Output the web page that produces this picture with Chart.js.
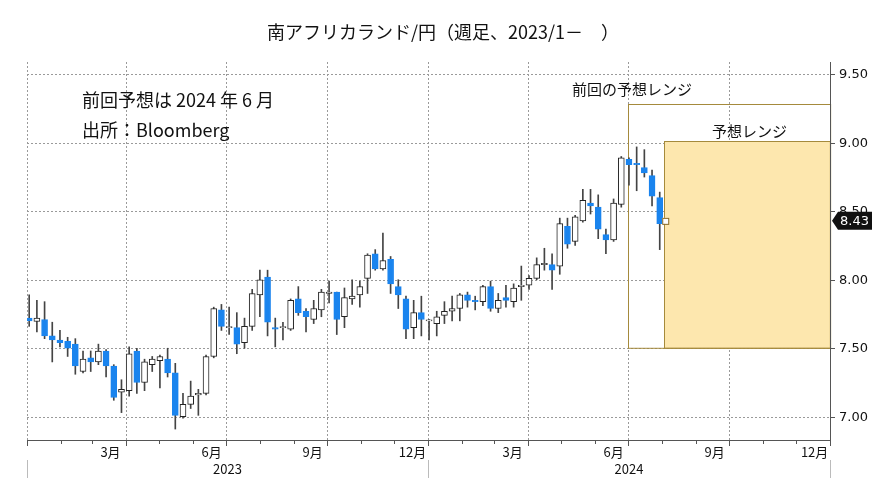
<!DOCTYPE html>
<html><head><meta charset="utf-8">
<script src="https://cdn.jsdelivr.net/npm/chart.js@4"></script>
<style>html,body{margin:0;padding:0;background:#fff}#w{width:885px;height:491px}</style>
</head><body><div id="w"><canvas id="c" width="885" height="491"></canvas></div>
<script>
// weekly candles, first week starting 2023-01-02 (day 1 from 2023-01-01)
const opens =  [7.72,7.695,7.71,7.59,7.56,7.55,7.53,7.33,7.43,7.40,7.48,7.37,7.18,7.19,7.48,7.25,7.38,7.41,7.42,7.32,7.00,7.09,7.16,7.17,7.44,7.78,7.65,7.65,7.54,7.66,7.89,8.02,7.65,7.65,7.64,7.86,7.77,7.71,7.78,7.90,7.91,7.73,7.86,7.89,8.01,8.19,8.08,8.15,7.95,7.86,7.65,7.76,7.70,7.68,7.74,7.77,7.79,7.89,7.85,7.84,7.95,7.79,7.87,7.84,7.95,7.96,8.01,8.11,8.11,8.10,8.39,8.28,8.43,8.56,8.53,8.33,8.29,8.55,8.88,8.85,8.82,8.76,8.60];
const highs =  [7.89,7.85,7.84,7.69,7.63,7.58,7.57,7.48,7.48,7.53,7.49,7.38,7.27,7.51,7.50,7.42,7.44,7.45,7.50,7.39,7.17,7.26,7.20,7.45,7.80,7.82,7.80,7.76,7.72,7.93,8.07,8.07,7.72,7.69,7.86,7.95,7.79,7.85,7.93,7.99,7.91,7.94,8.00,7.99,8.19,8.22,8.34,8.17,8.00,7.88,7.85,7.88,7.71,7.77,7.84,7.88,7.90,7.91,7.88,7.96,7.99,7.90,7.96,7.97,8.10,8.03,8.16,8.23,8.19,8.45,8.45,8.47,8.66,8.66,8.62,8.37,8.59,8.90,8.89,8.97,8.95,8.80,8.64];
const lows =   [7.66,7.62,7.57,7.40,7.51,7.44,7.31,7.32,7.33,7.38,7.29,7.12,7.03,7.15,7.17,7.19,7.33,7.21,7.29,6.91,6.99,7.06,7.01,7.16,7.43,7.63,7.60,7.46,7.50,7.63,7.73,7.59,7.51,7.56,7.63,7.74,7.62,7.68,7.73,7.83,7.60,7.65,7.82,7.80,7.90,8.07,8.07,7.90,7.79,7.57,7.57,7.59,7.56,7.59,7.68,7.70,7.70,7.80,7.78,7.81,7.77,7.76,7.80,7.80,7.85,7.93,8.00,8.07,7.93,8.04,8.23,8.25,8.42,8.48,8.30,8.19,8.28,8.53,8.69,8.65,8.75,8.54,8.22];
const closes = [7.70,7.72,7.59,7.56,7.54,7.50,7.37,7.42,7.40,7.48,7.37,7.14,7.20,7.46,7.25,7.40,7.42,7.44,7.32,7.01,7.09,7.15,7.17,7.44,7.79,7.66,7.65,7.53,7.66,7.90,8.00,7.69,7.64,7.65,7.85,7.76,7.73,7.79,7.91,7.91,7.71,7.87,7.88,7.95,8.18,8.08,8.14,7.97,7.89,7.64,7.76,7.71,7.70,7.73,7.77,7.79,7.89,7.85,7.84,7.95,7.79,7.85,7.85,7.94,7.96,8.01,8.11,8.12,8.07,8.41,8.26,8.46,8.58,8.54,8.37,8.29,8.56,8.89,8.84,8.84,8.78,8.61,8.41];
const lastPrice = 8.43;
const yTicks = [7.00,7.50,8.00,8.50,9.00,9.50];
const monthLabels = ['3月','6月','9月','12月','3月','6月','9月','12月'];
const yearLabels = ['2023','2024'];
const prevRange = [7.50, 9.28];   // 前回の予想レンジ (2024/7〜)
const newRange  = [7.50, 9.01];   // 予想レンジ (2024/8〜)

const DAY = 86400000, T0 = Date.UTC(2023,0,1);
const dayOf = (y,m,d)=> (Date.UTC(y,m,d)-T0)/DAY;
const xs = opens.map((_,i)=> 1 + 7*i + 1);
const bodies = opens.map((o,i)=>({x:xs[i], y:[Math.min(o,closes[i]), Math.max(o,closes[i])]}));
const wicks = opens.map((o,i)=>({x:xs[i], y:[lows[i], highs[i]]}));
const bull = opens.map((o,i)=> closes[i] >= o);
const BLUE = '#1a84ee';

const deco = {
  id:'deco',
  beforeDatasetsDraw(ch){
    const {ctx, scales:{x,y}, chartArea:a} = ch;
    ctx.save();
    ctx.strokeStyle='#9a9a9a'; ctx.lineWidth=1; ctx.setLineDash([2,2]);
    yTicks.forEach(v=>{const py=Math.round(y.getPixelForValue(v))+0.5; ctx.beginPath(); ctx.moveTo(a.left,py); ctx.lineTo(a.right,py); ctx.stroke();});
    [[2023,0],[2023,3],[2023,6],[2023,9],[2024,0],[2024,3],[2024,6],[2024,9]].forEach(([yy,m])=>{
      const px=Math.round(x.getPixelForValue(dayOf(yy,m,1)))+0.5; ctx.beginPath(); ctx.moveTo(px,a.top); ctx.lineTo(px,a.bottom); ctx.stroke();});
    ctx.setLineDash([]);
    const x0=x.getPixelForValue(dayOf(2024,6,1)), x1=x.getPixelForValue(dayOf(2024,7,3)), xr=a.right;
    ctx.fillStyle='#fde7ae';
    const ny0=y.getPixelForValue(newRange[1]), ny1=y.getPixelForValue(newRange[0]);
    ctx.fillRect(x1,ny0,xr-x1,ny1-ny0);
    ctx.strokeStyle='#a58a3c'; ctx.lineWidth=1;
    ctx.strokeRect(Math.round(x1)+0.5,Math.round(ny0)+0.5,xr-x1,ny1-ny0);
    const py0=y.getPixelForValue(prevRange[1]), py1=y.getPixelForValue(prevRange[0]);
    ctx.strokeRect(Math.round(x0)+0.5,Math.round(py0)+0.5,xr-x0,py1-py0);
    ctx.restore();
  },
  afterDraw(ch){
    const {ctx, scales:{x,y}, chartArea:a} = ch;
    ctx.save();
    ctx.fillStyle='#111';
    ctx.font='18px "Noto Sans CJK JP"'; ctx.textAlign='center'; ctx.textBaseline='middle';
    ctx.fillText('南アフリカランド/円（週足、2023/1－　）', 443, 32);
    ctx.textAlign='left'; ctx.font='18px "Noto Sans CJK JP"';
    ctx.fillText('前回予想は 2024 年 6 月', 82, 100);
    ctx.fillText('出所：Bloomberg', 82, 130);
    ctx.font='15px "Noto Sans CJK JP"';
    ctx.fillText('前回の予想レンジ', 572, 89);
    ctx.fillText('予想レンジ', 712, 131);
    ctx.strokeStyle='#555'; ctx.lineWidth=1;
    ctx.beginPath(); ctx.moveTo(a.right+0.5,a.top); ctx.lineTo(a.right+0.5,a.bottom); ctx.stroke();
    ctx.font='13px "DejaVu Sans"'; ctx.textAlign='left';
    yTicks.forEach(v=>{const py=Math.round(y.getPixelForValue(v))+0.5;
      ctx.beginPath(); ctx.moveTo(a.right,py); ctx.lineTo(a.right+5,py); ctx.stroke();
      ctx.fillText(v.toFixed(2), a.right+9, py);});
    const ly=y.getPixelForValue(lastPrice);
    ctx.fillStyle='#111'; ctx.beginPath();
    ctx.moveTo(a.right+2,ly); ctx.lineTo(a.right+8,ly-9); ctx.lineTo(a.right+42,ly-9); ctx.lineTo(a.right+42,ly+9); ctx.lineTo(a.right+8,ly+9); ctx.closePath(); ctx.fill();
    ctx.fillStyle='#fff'; ctx.font='13px "DejaVu Sans"'; ctx.fillText(lastPrice.toFixed(2), a.right+10, ly+1);
    const mx=x.getPixelForValue(xs[xs.length-1]+5);
    ctx.fillStyle='#fff'; ctx.strokeStyle='#8a6d2a'; ctx.fillRect(mx-3,ly-3,6,6); ctx.strokeRect(mx-3+0.5,ly-3+0.5,6,6);
    ctx.strokeStyle='#555';
    ctx.beginPath(); ctx.moveTo(a.left,a.bottom+0.5); ctx.lineTo(a.right,a.bottom+0.5); ctx.stroke();
    for(let yy=2023; yy<=2025; yy++) for(let m=0;m<12;m++){ if(yy===2025&&m>0) break;
      const px=Math.round(x.getPixelForValue(dayOf(yy,m,1)))+0.5;
      ctx.beginPath(); ctx.moveTo(px,a.bottom); ctx.lineTo(px,a.bottom+(m%3===0?6:4)); ctx.stroke(); }
    ctx.fillStyle='#111'; ctx.font='13px "Noto Sans CJK JP"'; ctx.textAlign='center';
    const mm=[[2023,2],[2023,5],[2023,8],[2023,11],[2024,2],[2024,5],[2024,8],[2024,11]];
    mm.forEach(([yy,m],i)=>{const px=x.getPixelForValue(dayOf(yy,m,18)); ctx.fillText(monthLabels[i], px, a.bottom+12);});
    yearLabels.forEach((t,i)=>{const yy=+t; const px=x.getPixelForValue((dayOf(yy,0,1)+dayOf(yy+1,0,1))/2); ctx.fillText(t, px, a.bottom+29);});
    ctx.strokeStyle='#bbb';
    [dayOf(2023,0,1),dayOf(2024,0,1),dayOf(2025,0,1)].forEach(d=>{const px=Math.round(x.getPixelForValue(d))+0.5;
      ctx.beginPath(); ctx.moveTo(px,a.bottom+20); ctx.lineTo(px,a.bottom+38); ctx.stroke();});
    ctx.restore();
  }
};

new Chart(document.getElementById('c'), {
  type:'bar',
  data:{datasets:[
    {data:wicks, backgroundColor:'#444', borderWidth:0, barThickness:1, grouped:false, order:2},
    {data:bodies, backgroundColor:bull.map(b=>b?'#ffffff':BLUE), borderColor:bull.map(b=>b?'#222':BLUE),
     borderWidth:1, borderSkipped:false, barThickness:6, minBarLength:1, grouped:false, order:1}
  ]},
  options:{
    responsive:false, animation:false, devicePixelRatio:1,
    layout:{padding:{left:27, top:62, right:0, bottom:0}},
    plugins:{legend:{display:false}, tooltip:{enabled:false}},
    scales:{
      x:{type:'linear', offset:false, min:0, max:dayOf(2025,0,1), display:true, grid:{display:false, offset:false}, border:{display:false},
         ticks:{display:false}, afterFit(s){s.height=51;}},
      y:{position:'right', min:6.83, max:9.59, grid:{display:false}, border:{display:false},
         ticks:{display:false}, afterFit(s){s.width=55;}}
    }
  },
  plugins:[deco]
});
</script></body></html>
